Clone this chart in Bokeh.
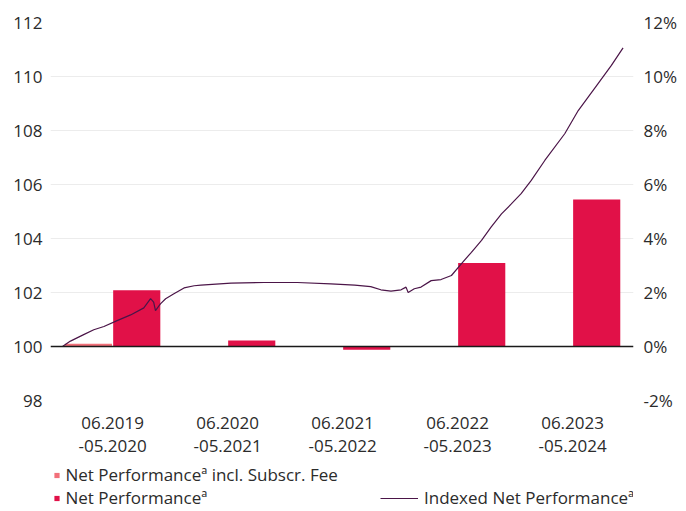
from datetime import datetime
import numpy as np
from bokeh.plotting import figure
from bokeh.layouts import column
from bokeh.models import (Range1d, LinearAxis, FixedTicker, PrintfTickFormatter,
                          Span, Legend, LegendItem, ColumnDataSource)
from bokeh.transform import dodge
from bokeh.embed import file_html
from bokeh.resources import INLINE

# ---------------- data ----------------
periods = ["06.2019\n-05.2020", "06.2020\n-05.2021", "06.2021\n-05.2022",
           "06.2022\n-05.2023", "06.2023\n-05.2024"]
net_perf_fee = [0.1, np.nan, np.nan, np.nan, np.nan]      # % incl. subscription fee
net_perf = [2.08, 0.22, -0.12, 3.09, 5.44]                 # %

line_dates = ["2019-06-01", "2019-06-27", "2019-08-09", "2019-09-11", "2019-10-14",
              "2019-11-26", "2020-01-09", "2020-02-21", "2020-03-14", "2020-03-24",
              "2020-03-30", "2020-04-15", "2020-05-02", "2020-05-29", "2020-07-01",
              "2020-08-03", "2020-08-25", "2020-12-01", "2021-03-18", "2021-07-05",
              "2021-10-22", "2022-01-08", "2022-03-01", "2022-04-03", "2022-05-06",
              "2022-06-08", "2022-06-24", "2022-07-01", "2022-07-21", "2022-08-12",
              "2022-09-14", "2022-10-16", "2022-11-19", "2022-12-21", "2023-01-23",
              "2023-02-25", "2023-03-28", "2023-05-01", "2023-06-02", "2023-07-04",
              "2023-08-06", "2023-09-19", "2023-11-23", "2024-01-06", "2024-03-10",
              "2024-04-23", "2024-05-31"]
line_values = [100.0, 100.2, 100.44, 100.62, 100.74,
               100.96, 101.17, 101.43, 101.77, 101.64,
               101.33, 101.58, 101.77, 101.95, 102.17,
               102.25, 102.27, 102.35, 102.37, 102.37,
               102.32, 102.27, 102.22, 102.1, 102.05,
               102.1, 102.2, 102.0, 102.14, 102.2,
               102.44, 102.48, 102.63, 103.06, 103.49,
               103.93, 104.42, 104.91, 105.28, 105.66,
               106.15, 106.89, 107.88, 108.74, 109.73,
               110.41, 111.06]

left_ticks = [98, 100, 102, 104, 106, 108, 110, 112]
right_ticks = [-2, 0, 2, 4, 6, 8, 10, 12]

# ---------------- styles ----------------
FONT = "Open Sans"
TXT = "#2b2b2b"
C_FEE = "#f2707a"
C_NET = "#e11148"
C_LINE = "#4b1548"

centers = [i + 0.5 for i in range(len(periods))]
bar_src = ColumnDataSource(dict(x=centers, fee=net_perf_fee, net=net_perf))
line_src = ColumnDataSource(dict(x=[datetime.fromisoformat(d) for d in line_dates],
                                 y=line_values))

p = figure(width=686, height=460, x_range=Range1d(-0.04, 5.03), y_range=Range1d(98, 112),
           output_backend="svg", toolbar_location=None,
           min_border_left=50, min_border_right=53, min_border_top=22, min_border_bottom=60)
p.outline_line_color = None
p.background_fill_color = "white"
p.border_fill_color = "white"

p.extra_y_ranges = {"pct": Range1d(-2, 12)}
p.extra_x_ranges = {"time": Range1d(start=datetime(2019, 4, 23), end=datetime(2024, 7, 4))}

# grid
p.xgrid.visible = False
p.ygrid.grid_line_color = "#ececec"
p.ygrid.grid_line_width = 1

# axes
for ax in (p.xaxis[0], p.yaxis[0]):
    ax.axis_line_color = None
    ax.major_tick_line_color = None
    ax.minor_tick_line_color = None
    ax.major_tick_out = 0
    ax.major_tick_in = 0
    ax.major_label_text_font = FONT
    ax.major_label_text_color = TXT

p.yaxis[0].ticker = FixedTicker(ticks=left_ticks)
p.yaxis[0].major_label_text_font_size = "17px"
p.yaxis[0].major_label_standoff = 8

p.xaxis[0].ticker = FixedTicker(ticks=centers)
p.xaxis[0].major_label_overrides = {c: lab for c, lab in zip(centers, periods)}
p.xaxis[0].major_label_text_font_size = "17px"
p.xaxis[0].major_label_text_line_height = 1.0
p.xaxis[0].major_label_standoff = 10

rax = LinearAxis(y_range_name="pct", ticker=FixedTicker(ticks=right_ticks),
                 formatter=PrintfTickFormatter(format="%d%%"))
rax.axis_line_color = None
rax.major_tick_line_color = None
rax.minor_tick_line_color = None
rax.major_tick_out = 0
rax.major_tick_in = 0
rax.major_label_text_font = FONT
rax.major_label_text_color = TXT
rax.major_label_text_font_size = "17px"
rax.major_label_standoff = 10
p.add_layout(rax, "right")

# bars
p.vbar(x=dodge("x", -0.21, range=p.x_range), top="fee", bottom=0, width=0.41,
       source=bar_src, y_range_name="pct", fill_color=C_FEE, line_color=None)
p.vbar(x=dodge("x", 0.21, range=p.x_range), top="net", bottom=0, width=0.41,
       source=bar_src, y_range_name="pct", fill_color=C_NET, line_color=None)

# zero line
p.add_layout(Span(location=100, dimension="width", line_color="#1a1a1a", line_width=1.5))

# indexed line
p.line(x="x", y="y", source=line_src, x_range_name="time",
       line_color=C_LINE, line_width=1.2)

# ---------------- legend strip ----------------
lg = figure(width=686, height=51, x_range=Range1d(0, 1), y_range=Range1d(0, 1),
            output_backend="svg", toolbar_location=None,
            x_axis_location=None, y_axis_location=None, min_border=0)
lg.outline_line_color = None
lg.xgrid.visible = False
lg.ygrid.visible = False

r_fee_leg = lg.scatter(x=[np.nan], y=[np.nan], marker="square", size=6,
                       fill_color=C_FEE, line_color=None)
r_net_leg = lg.scatter(x=[np.nan], y=[np.nan], marker="square", size=6,
                       fill_color=C_NET, line_color=None)
r_line_leg = lg.line(x=[np.nan, np.nan], y=[np.nan, np.nan], line_color=C_LINE, line_width=1.2)

common = dict(orientation="vertical", spacing=0, padding=0, margin=0,
              border_line_alpha=0, background_fill_alpha=0,
              label_text_font=FONT, label_text_font_size="17px",
              label_text_color=TXT, glyph_height=20, label_height=20)

legA = Legend(items=[LegendItem(label="Net Performance\u00aa incl. Subscr. Fee", renderers=[r_fee_leg]),
                     LegendItem(label="Net Performance\u00aa", renderers=[r_net_leg])],
              location=(-0.5, 2), glyph_width=13, label_standoff=3, **common)
legB = Legend(items=[LegendItem(label="Indexed Net Performance\u00aa", renderers=[r_line_leg])],
              location=(330, 2), glyph_width=38, label_standoff=6, **common)
lg.add_layout(legA, "center")
lg.add_layout(legB, "center")

layout = column(p, lg, spacing=0)
open("out.html", "w").write(file_html(layout, INLINE))
